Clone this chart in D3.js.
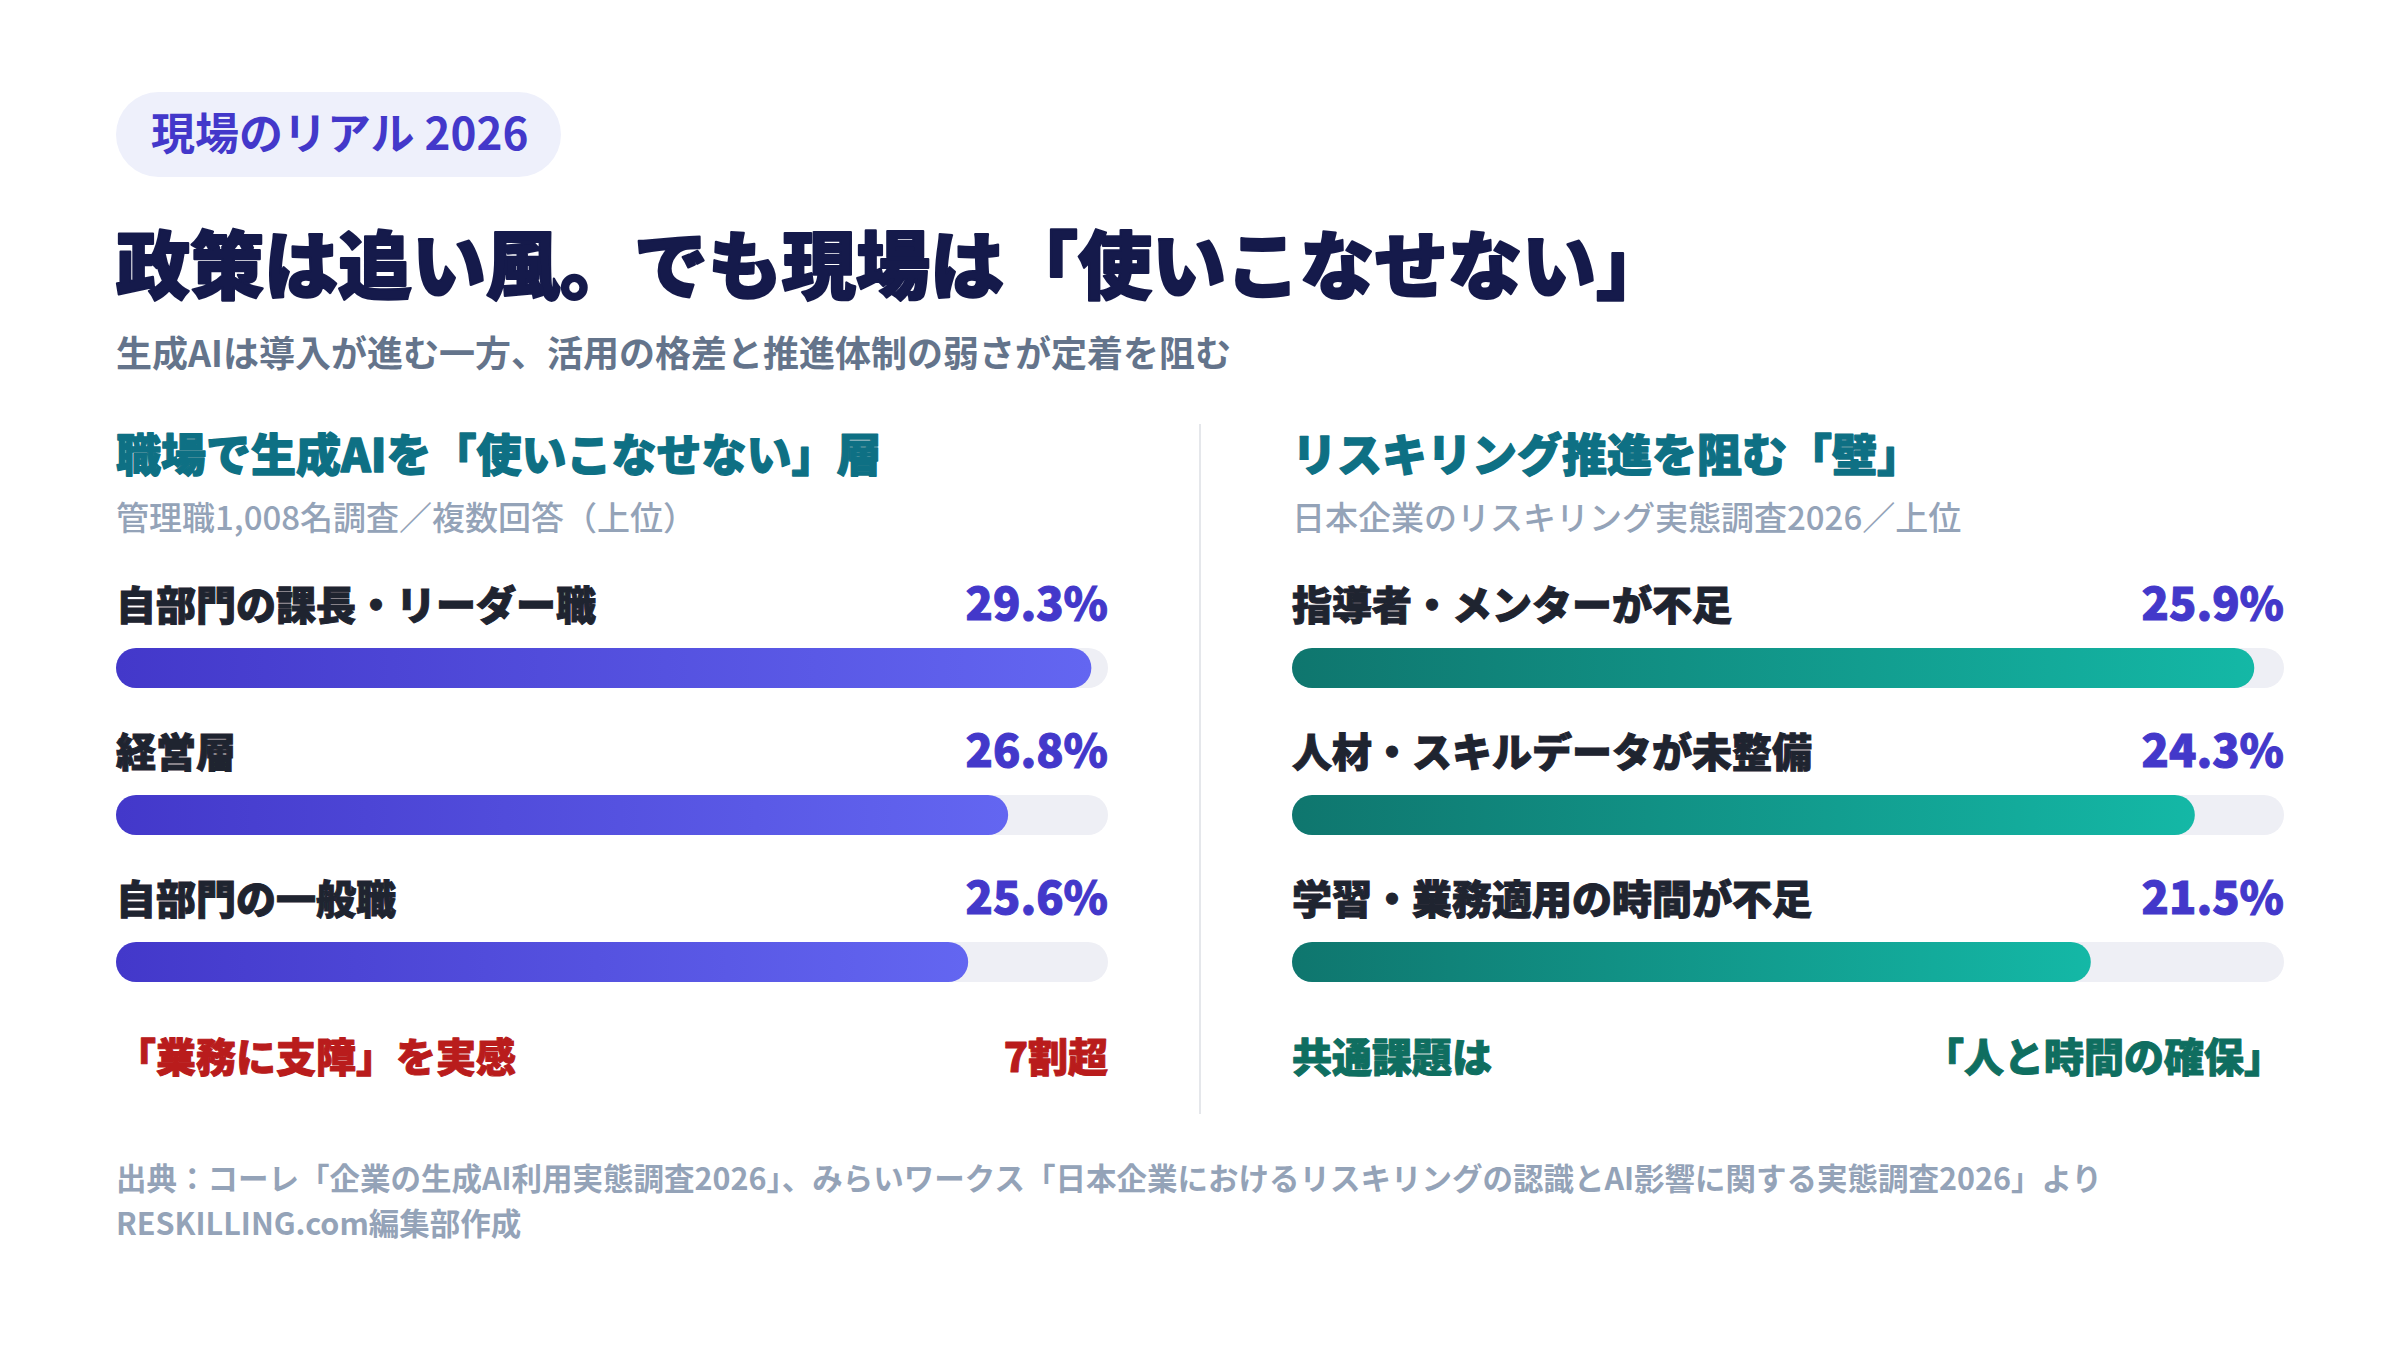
<!DOCTYPE html>
<html>
<head>
  <meta charset="utf-8">
  <title>現場のリアル 2026</title>
  <script src="https://d3js.org/d3.v7.min.js"></script>
  <style>
    body { margin: 0; background: #fff; }
    text { font-family: "Noto Sans CJK JP", "Noto Sans", sans-serif; }
  </style>
</head>
<body>
  <div id="chart"></div>
</body>

<script>
  // data
  const leftLabels = ["自部門の課長・リーダー職", "経営層", "自部門の一般職"];
  const leftValues = [29.3, 26.8, 25.6];
  const rightLabels = ["指導者・メンターが不足", "人材・スキルデータが未整備", "学習・業務適用の時間が不足"];
  const rightValues = [25.9, 24.3, 21.5];

  const W = 2400, H = 1350;

  const svg = d3.select("#chart")
    .append("svg")
      .attr("width", W)
      .attr("height", H);

  const defs = svg.append("defs");
  const gradL = defs.append("linearGradient").attr("id", "gradL");
  gradL.append("stop").attr("offset", "0%").attr("stop-color", "#4338CA");
  gradL.append("stop").attr("offset", "100%").attr("stop-color", "#6366F1");
  const gradR = defs.append("linearGradient").attr("id", "gradR");
  gradR.append("stop").attr("offset", "0%").attr("stop-color", "#0F766E");
  gradR.append("stop").attr("offset", "100%").attr("stop-color", "#14B8A6");

  // heavier look for the black headings
  function heavy(sel, w) {
    return sel.attr("stroke", sel.attr("fill"))
      .attr("stroke-width", w)
      .attr("stroke-linejoin", "round");
  }

  // header pill
  svg.append("rect")
    .attr("x", 116).attr("y", 92)
    .attr("width", 445).attr("height", 85)
    .attr("rx", 42.5)
    .attr("fill", "#EEF0FB");
  svg.append("text")
    .attr("x", 151).attr("y", 150)
    .attr("font-size", 44).attr("font-weight", 700)
    .attr("fill", "#4338CA")
    .text("現場のリアル 2026");

  heavy(svg.append("text")
    .attr("x", 116).attr("y", 293)
    .attr("font-size", 74).attr("font-weight", 900)
    .attr("fill", "#151A4B")
    .text("政策は追い風。でも現場は「使いこなせない」"), 2.2);

  svg.append("text")
    .attr("x", 116).attr("y", 367)
    .attr("font-size", 36).attr("font-weight", 700)
    .attr("fill", "#64748B")
    .text("生成AIは導入が進む一方、活用の格差と推進体制の弱さが定着を阻む");

  // divider
  svg.append("line")
    .attr("x1", 1200).attr("x2", 1200)
    .attr("y1", 424).attr("y2", 1114)
    .attr("stroke", "#E5E7EB").attr("stroke-width", 2);

  function panel(opts) {
    const g = svg.append("g");
    const x = d3.scaleLinear()
      .domain([0, opts.max])
      .range([opts.x0, opts.x1]);
    const y = d3.scalePoint()
      .domain(opts.labels)
      .range([648, 942]);
    const barH = 40;

    heavy(g.append("text")
      .attr("x", opts.x0).attr("y", 472)
      .attr("font-size", 45).attr("font-weight", 900)
      .attr("fill", "#0E7084")
      .text(opts.title), 1.3);
    g.append("text")
      .attr("x", opts.x0).attr("y", 530)
      .attr("font-size", 33).attr("font-weight", 500)
      .attr("fill", "#94A3B8")
      .text(opts.sub);

    const rows = g.selectAll(".row")
      .data(opts.labels.map((l, i) => ({ label: l, value: opts.values[i] })))
      .enter()
      .append("g")
      .attr("class", "row");

    rows.append("text")
      .attr("x", opts.x0)
      .attr("y", d => y(d.label) - 28)
      .attr("font-size", 40).attr("font-weight", 900)
      .attr("fill", "#1F2430")
      .attr("stroke", "#1F2430").attr("stroke-width", 1)
      .text(d => d.label);

    rows.append("text")
      .attr("x", opts.x1)
      .attr("y", d => y(d.label) - 28)
      .attr("text-anchor", "end")
      .attr("font-size", 45).attr("font-weight", 900)
      .attr("fill", "#4338CA")
      .attr("stroke", "#4338CA").attr("stroke-width", 1)
      .text(d => d.value.toFixed(1) + "%");

    // track
    rows.append("rect")
      .attr("x", x(0))
      .attr("y", d => y(d.label))
      .attr("width", x(opts.max) - x(0))
      .attr("height", barH)
      .attr("rx", barH / 2)
      .attr("fill", "#EEEFF5");

    // value bar
    rows.append("rect")
      .attr("x", x(0))
      .attr("y", d => y(d.label))
      .attr("width", d => x(d.value) - x(0))
      .attr("height", barH)
      .attr("rx", barH / 2)
      .attr("fill", opts.fill);

    // note line under bars
    heavy(g.append("text")
      .attr("x", opts.x0).attr("y", 1072)
      .attr("font-size", 40).attr("font-weight", 900)
      .attr("fill", opts.noteColor)
      .text(opts.noteLeft), 1);
    heavy(g.append("text")
      .attr("x", opts.x1).attr("y", 1072)
      .attr("text-anchor", "end")
      .attr("font-size", 40).attr("font-weight", 900)
      .attr("fill", opts.noteColor)
      .text(opts.noteRight), 1);
  }

  panel({
    x0: 116, x1: 1108, max: 29.8,
    labels: leftLabels, values: leftValues,
    title: "職場で生成AIを「使いこなせない」層",
    sub: "管理職1,008名調査／複数回答（上位）",
    fill: "url(#gradL)",
    noteColor: "#B91C1C",
    noteLeft: "「業務に支障」を実感",
    noteRight: "7割超"
  });

  panel({
    x0: 1292, x1: 2284, max: 26.7,
    labels: rightLabels, values: rightValues,
    title: "リスキリング推進を阻む「壁」",
    sub: "日本企業のリスキリング実態調査2026／上位",
    fill: "url(#gradR)",
    noteColor: "#0F6E60",
    noteLeft: "共通課題は",
    noteRight: "「人と時間の確保」"
  });

  // source
  svg.append("text")
    .attr("x", 116).attr("y", 1190)
    .attr("font-size", 30.5).attr("font-weight", 700)
    .attr("fill", "#94A3B8")
    .text("出典：コーレ「企業の生成AI利用実態調査2026」、みらいワークス「日本企業におけるリスキリングの認識とAI影響に関する実態調査2026」より");
  svg.append("text")
    .attr("x", 116).attr("y", 1235)
    .attr("font-size", 30.5).attr("font-weight", 700)
    .attr("fill", "#94A3B8")
    .text("RESKILLING.com編集部作成");
</script>

</html>
